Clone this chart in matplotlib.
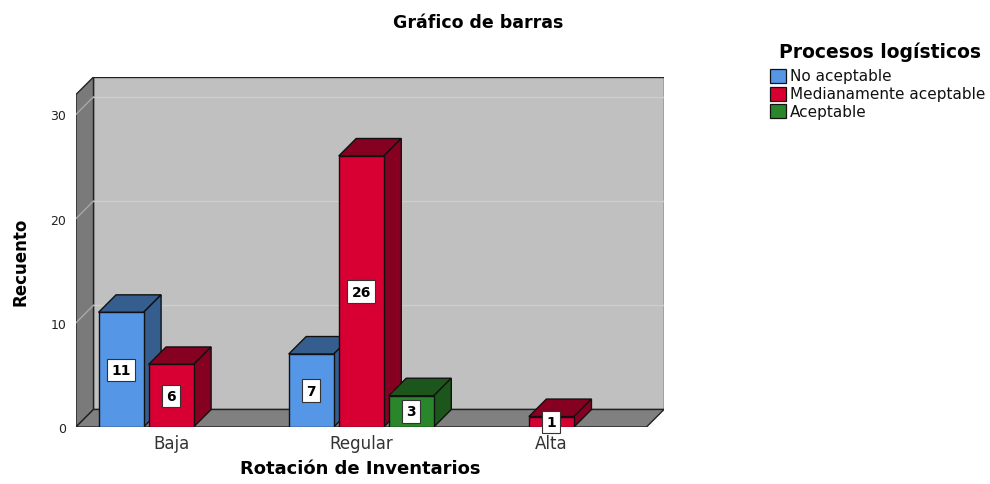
import matplotlib.pyplot as plt
from matplotlib.patches import Polygon, Rectangle

# datos
categorias = ['Baja', 'Regular', 'Alta']
series = ['No aceptable', 'Medianamente aceptable', 'Aceptable']
no_aceptable = [11, 7, 0]
medianamente = [6, 26, 1]
aceptable = [0, 3, 0]
valores = [no_aceptable, medianamente, aceptable]

col_frente = ['#5596e6', '#d80032', '#2a862a']
col_lado = ['#355e8f', '#850021', '#1c561c']

plt.rcParams['font.family'] = ['DejaVu Sans']

fig = plt.figure(figsize=(9.9, 4.85), dpi=100)
ax = fig.add_axes([76 / 990, 57 / 485, 588 / 990, 350 / 485])

dx = 0.092      # profundidad en unidades de categoria
dy = 1.68       # profundidad en unidades de recuento
ytop = 31.9
x0, x1 = -0.5, 2.5
ancho = 0.237
paso = 0.263

# paredes
ax.add_patch(Polygon([(x0 + dx, dy), (x1 + dx, dy), (x1 + dx, ytop + dy), (x0 + dx, ytop + dy)],
                     closed=True, fc='#c0c0c0', ec='#222222', lw=1, zorder=1))
ax.add_patch(Polygon([(x0, 0), (x0, ytop), (x0 + dx, ytop + dy), (x0 + dx, dy)],
                     closed=True, fc='#7a7a7a', ec='#222222', lw=1, zorder=1))
ax.add_patch(Polygon([(x0, 0), (x1, 0), (x1 + dx, dy), (x0 + dx, dy)],
                     closed=True, fc='#808080', ec='#222222', lw=1, zorder=1))
for v in [10, 20, 30]:
    ax.plot([x0 + dx, x1 + dx], [v + dy, v + dy], color='#cecece', lw=1, zorder=2)
    ax.plot([x0, x0 + dx], [v, v + dy], color='#a8a8a8', lw=1, zorder=2)

# barras
z = 3
for i in range(len(categorias)):
    for j in range(len(series)):
        v = valores[j][i]
        if v == 0:
            continue
        xl = i + (j - 1) * paso - ancho / 2
        xr = xl + ancho
        ax.add_patch(Polygon([(xl, v), (xr, v), (xr + dx, v + dy), (xl + dx, v + dy)],
                             closed=True, fc=col_lado[j], ec='#111111', lw=1, zorder=z))
        ax.add_patch(Polygon([(xr, 0), (xr, v), (xr + dx, v + dy), (xr + dx, dy)],
                             closed=True, fc=col_lado[j], ec='#111111', lw=1, zorder=z))
        ax.add_patch(Polygon([(xl, 0), (xr, 0), (xr, v), (xl, v)],
                             closed=True, fc=col_frente[j], ec='#111111', lw=1, zorder=z + 1))
        ax.text((xl + xr) / 2, v / 2, str(v), ha='center', va='center', fontsize=10,
                fontweight='bold', zorder=z + 2, clip_on=False,
                bbox=dict(boxstyle='square,pad=0.3', fc='white', ec='#333333', lw=0.8))
        z += 3

ax.set_xlim(x0, x1 + dx)
ax.set_ylim(0, ytop + dy)
for s in ax.spines.values():
    s.set_visible(False)
ax.set_yticks([0, 10, 20, 30])
ax.set_xticks(range(len(categorias)))
ax.set_xticklabels(categorias)
ax.tick_params(axis='y', length=0, pad=7, labelsize=9, colors='#222222')
ax.tick_params(axis='x', length=0, pad=5, labelsize=12, colors='#333333')

fig.text(21 / 990, 1 - 262 / 485, 'Recuento', rotation=90, ha='center', va='center',
         fontsize=12, fontweight='bold')
fig.text(360 / 990, 1 - 469 / 485, 'Rotación de Inventarios', ha='center', va='center',
         fontsize=13, fontweight='bold')
fig.text(478 / 990, 1 - 23 / 485, 'Gráfico de barras', ha='center', va='center',
         fontsize=12.5, fontweight='bold')

# leyenda
fig.text(880 / 990, 1 - 52 / 485, 'Procesos logísticos', ha='center', va='center',
         fontsize=13.5, fontweight='bold')
for j, nombre in enumerate(series):
    yc = 77 + 17.5 * j
    fig.patches.append(Rectangle((770 / 990, 1 - (yc + 7) / 485), 16 / 990, 14 / 485,
                                 transform=fig.transFigure, fc=col_frente[j], ec='#111111',
                                 lw=0.9, figure=fig))
    fig.text(790 / 990, 1 - yc / 485, nombre, ha='left', va='center', fontsize=11,
             color='#111111')

fig.savefig('out.png', dpi=100)
